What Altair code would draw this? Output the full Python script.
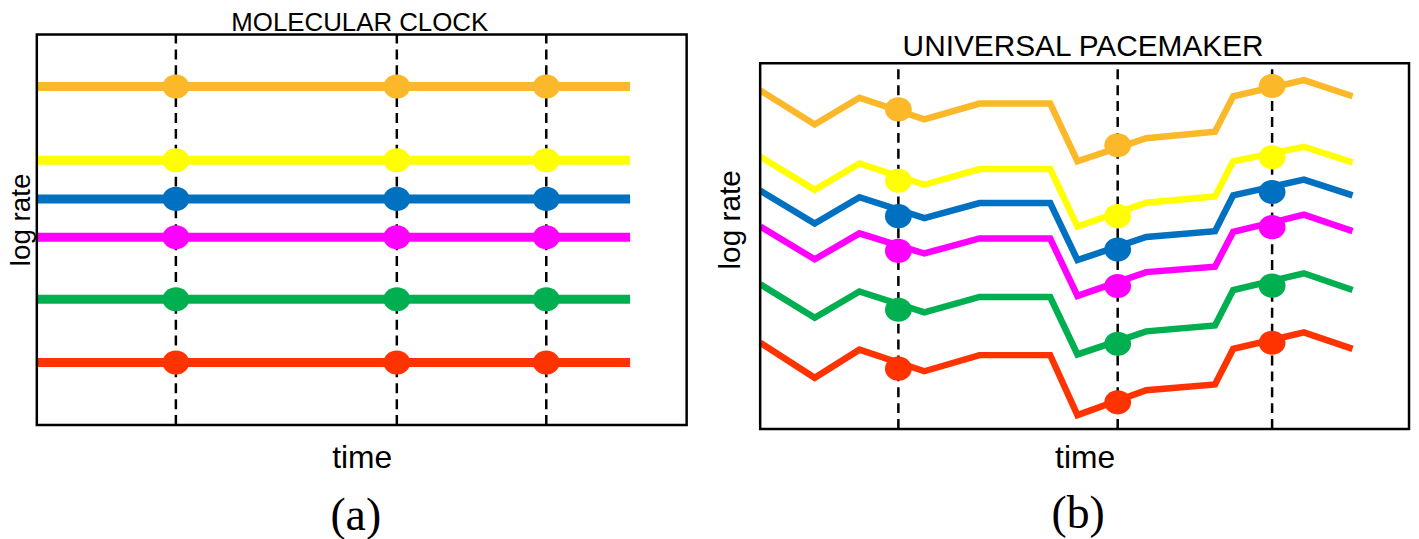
import altair as alt
import pandas as pd

# ---------------- data ----------------
series = ["orange", "yellow", "blue", "magenta", "green", "red"]
colors = ["#FBB829", "#FFFF00", "#0070C0", "#FF00FF", "#00B050", "#FF3300"]

# Panel (a): molecular clock (constant log rates)
clock_line_t = [0, 91.3]
clock_level = [86.7, 67.8, 57.9, 48.1, 32.2, 16.0]
clock_marks_t = [21.4, 55.4, 78.4]

# Panel (b): universal pacemaker
pace_t = [0, 8.4, 15.3, 25.3, 33.8, 44.7, 48.9, 59.5, 70.1, 72.9, 83.8, 91.3]
pace_orange = [92.6, 83.3, 90.6, 84.7, 89.0, 89.0, 73.2, 79.5, 81.3, 91.0, 95.4, 91.0]
pace_yellow = [74.5, 65.4, 72.6, 66.8, 71.1, 71.1, 55.4, 61.9, 63.6, 73.2, 77.2, 72.9]
pace_blue = [65.2, 56.2, 63.4, 57.7, 61.8, 61.8, 46.2, 52.5, 54.1, 63.9, 68.2, 63.9]
pace_magenta = [55.4, 46.4, 53.5, 48.0, 52.1, 52.1, 36.4, 42.9, 44.4, 53.9, 58.6, 54.1]
pace_green = [39.6, 30.4, 37.6, 31.9, 36.1, 36.1, 20.4, 26.7, 28.3, 38.0, 42.6, 38.0]
pace_red = [23.6, 14.0, 21.7, 15.8, 20.2, 20.2, 3.8, 10.6, 12.2, 21.9, 26.4, 21.9]

pace_marks_t = [21.3, 55.1, 78.9]
pace_dot_orange = [87.4, 77.6, 93.8]
pace_dot_yellow = [67.9, 58.2, 74.3]
pace_dot_blue = [58.2, 49.1, 64.8]
pace_dot_magenta = [48.7, 39.1, 55.2]
pace_dot_green = [32.6, 23.3, 39.2]
pace_dot_red = [16.5, 7.3, 23.6]

# axes box (time 0..100, log rate 0..100 in both panels)
box_t = [0, 100]
box_r = [0, 100]

# ---------------- tables ----------------
clock_lines = pd.DataFrame(
    [{"s": s, "t": t, "r": lvl} for s, lvl in zip(series, clock_level) for t in clock_line_t]
)
clock_dots = pd.DataFrame(
    [{"s": s, "t": t, "r": lvl} for s, lvl in zip(series, clock_level) for t in clock_marks_t]
)
pace_vals = [pace_orange, pace_yellow, pace_blue, pace_magenta, pace_green, pace_red]
pace_dots_vals = [pace_dot_orange, pace_dot_yellow, pace_dot_blue,
                  pace_dot_magenta, pace_dot_green, pace_dot_red]
pace_lines = pd.DataFrame(
    [{"s": s, "t": t, "r": v} for s, vals in zip(series, pace_vals) for t, v in zip(pace_t, vals)]
)
pace_dots = pd.DataFrame(
    [{"s": s, "t": t, "r": v} for s, vals in zip(series, pace_dots_vals) for t, v in zip(pace_marks_t, vals)]
)


def rules_table(marks):
    return pd.DataFrame({"t": marks, "r": [box_r[0]] * len(marks), "r2": [box_r[1]] * len(marks)})


box_table = pd.DataFrame({"t": [box_t[0]], "t2": [box_t[1]], "r": [box_r[0]], "r2": [box_r[1]]})
one = pd.DataFrame({"z": [0]})

# ---------------- styling helpers ----------------
SANS = "Liberation Sans"
SERIF = "Liberation Serif"
ELLIPSE = "M-1,0A1,0.9,0,1,0,1,0A1,0.9,0,1,0,-1,0Z"


def xenc():
    return alt.X(
        "t:Q",
        scale=alt.Scale(domain=[0, 100], nice=False, zero=False),
        axis=alt.Axis(title="time", labels=False, ticks=False, domain=False, grid=False,
                      titleFont=SANS, titleFontSize=32, titleFontWeight="normal",
                      titleColor="black", titlePadding=14),
    )


def yenc(domain, tsize, tpad):
    return alt.Y(
        "r:Q",
        scale=alt.Scale(domain=domain, nice=False, zero=False),
        axis=alt.Axis(title="log rate", labels=False, ticks=False, domain=False, grid=False,
                      titleFont=SANS, titleFontSize=tsize, titleFontWeight="normal",
                      titleColor="black", titlePadding=tpad),
    )


cenc = alt.Color("s:N", scale=alt.Scale(domain=series, range=colors), legend=None)


def panel(lines, dots, marks, lw, w, domain, tsize, tpad,
          title, title_size, title_x, title_y, cap, cap_x, cap_y):
    y = yenc(domain, tsize, tpad)
    rule = alt.Chart(rules_table(marks)).mark_rule(
        color="black", strokeWidth=2.5, strokeDash=[10, 6]
    ).encode(x=xenc(), y=y, y2="r2:Q")
    line = alt.Chart(lines).mark_line(strokeWidth=lw, strokeCap="butt").encode(
        x=xenc(), y=y, color=cenc, detail="s:N"
    )
    dot = alt.Chart(dots).mark_point(filled=True, opacity=1, size=729, shape=ELLIPSE,
                                     strokeWidth=0).encode(x=xenc(), y=y, color=cenc)
    box = alt.Chart(box_table).mark_rect(fill="transparent", stroke="black", strokeWidth=2.5).encode(
        x=xenc(), x2="t2:Q", y=y, y2="r2:Q"
    )
    ttl = alt.Chart(one).mark_text(font=SANS, fontSize=title_size, baseline="alphabetic",
                                   align="center", color="black").encode(
        x=alt.value(title_x), y=alt.value(title_y), text=alt.value(title)
    )
    capt = alt.Chart(one).mark_text(font=SERIF, fontSize=46, baseline="alphabetic",
                                    align="center", color="black").encode(
        x=alt.value(cap_x), y=alt.value(cap_y), text=alt.value(cap)
    )
    return alt.layer(rule, line, dot, box, ttl, capt).properties(width=w, height=422)


left = panel(clock_lines, clock_dots, clock_marks_t, 9, 654, [-1.018, 106.36], 28, 1,
             "MOLECULAR CLOCK", 26, 325, 21, "(a)", 321, 524)
right = panel(pace_lines, pace_dots, pace_marks_t, 6.5, 653, [0, 114.67], 30, 15,
              "UNIVERSAL PACEMAKER", 30, 325, 47, "(b)", 320, 522)

chart = alt.hconcat(
    left, right, spacing=27,
    padding={"left": 0, "top": 0, "right": 0, "bottom": 0},
    autosize=alt.AutoSizeParams(type="pad"),
    background="white",
).configure_view(strokeWidth=0)

chart.save("out.html", embed_options={"renderer": "svg", "actions": False})
